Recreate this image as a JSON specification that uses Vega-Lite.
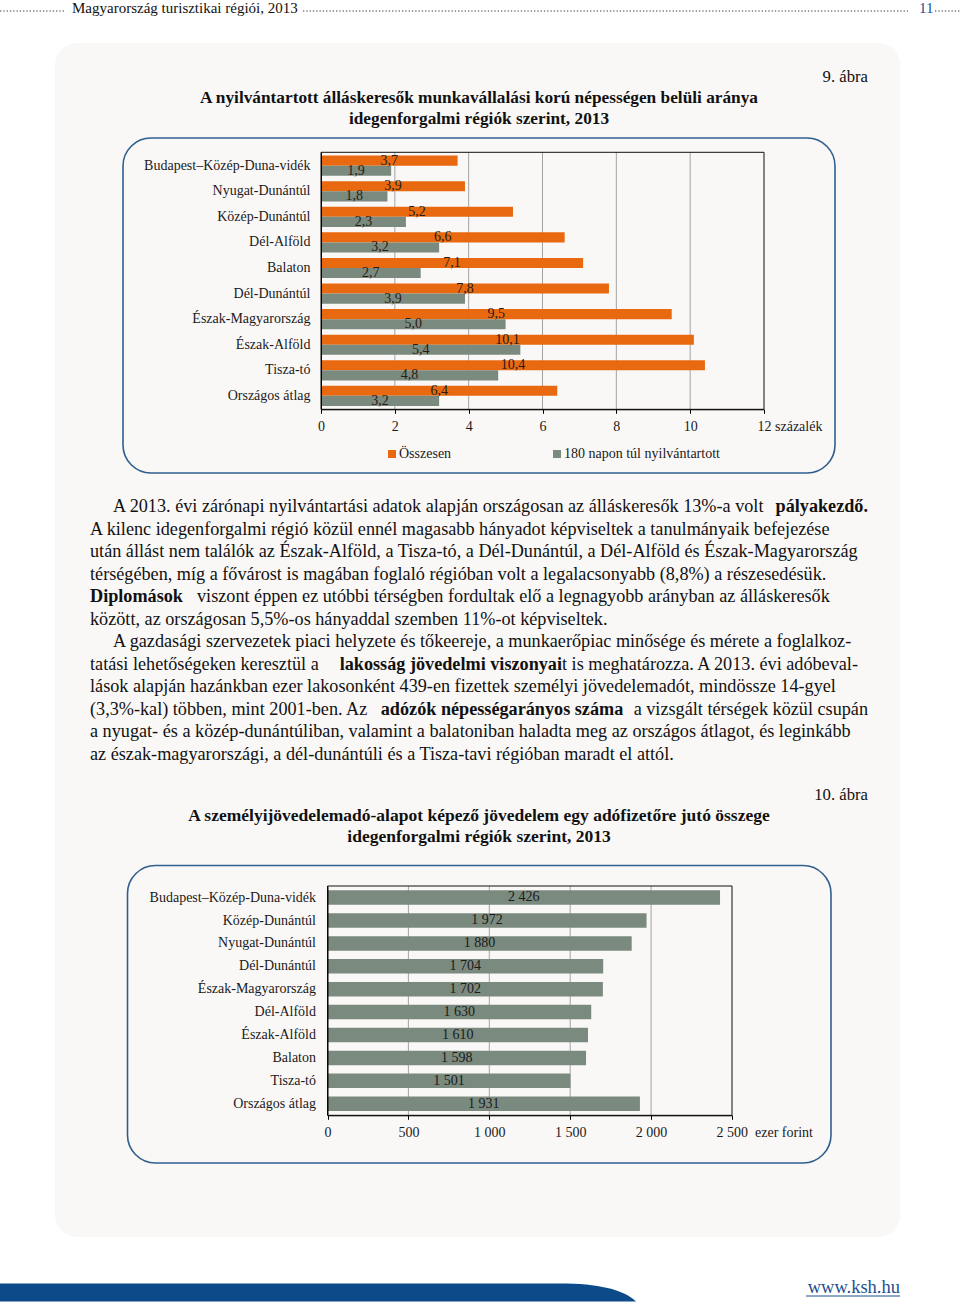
{
  "$schema": "https://vega.github.io/schema/vega-lite/v6.json",
  "width": 960,
  "height": 1308,
  "autosize": {"type": "none"},
  "padding": 0,
  "background": "#ffffff",
  "config": {
    "view": {"stroke": null},
    "font": "Liberation Serif",
    "locale": {"number": {"decimal": ",", "thousands": " ", "grouping": [3], "currency": ["", ""]}},
    "text": {"font": "Liberation Serif", "color": "#111111"},
    "axis": {"labelFont": "Liberation Serif", "labelFontSize": 14, "labelColor": "#1a1a1a", "domainColor": "#000000", "tickColor": "#000000", "grid": false, "zindex": 1}
  },
  "datasets": {
    "c1": [
      {"region": "Budapest–Közép-Duna-vidék", "series": "Összesen", "value": 3.7},
      {"region": "Budapest–Közép-Duna-vidék", "series": "180 napon túl nyilvántartott", "value": 1.9},
      {"region": "Nyugat-Dunántúl", "series": "Összesen", "value": 3.9},
      {"region": "Nyugat-Dunántúl", "series": "180 napon túl nyilvántartott", "value": 1.8},
      {"region": "Közép-Dunántúl", "series": "Összesen", "value": 5.2},
      {"region": "Közép-Dunántúl", "series": "180 napon túl nyilvántartott", "value": 2.3},
      {"region": "Dél-Alföld", "series": "Összesen", "value": 6.6},
      {"region": "Dél-Alföld", "series": "180 napon túl nyilvántartott", "value": 3.2},
      {"region": "Balaton", "series": "Összesen", "value": 7.1},
      {"region": "Balaton", "series": "180 napon túl nyilvántartott", "value": 2.7},
      {"region": "Dél-Dunántúl", "series": "Összesen", "value": 7.8},
      {"region": "Dél-Dunántúl", "series": "180 napon túl nyilvántartott", "value": 3.9},
      {"region": "Észak-Magyarország", "series": "Összesen", "value": 9.5},
      {"region": "Észak-Magyarország", "series": "180 napon túl nyilvántartott", "value": 5.0},
      {"region": "Észak-Alföld", "series": "Összesen", "value": 10.1},
      {"region": "Észak-Alföld", "series": "180 napon túl nyilvántartott", "value": 5.4},
      {"region": "Tisza-tó", "series": "Összesen", "value": 10.4},
      {"region": "Tisza-tó", "series": "180 napon túl nyilvántartott", "value": 4.8},
      {"region": "Országos átlag", "series": "Összesen", "value": 6.4},
      {"region": "Országos átlag", "series": "180 napon túl nyilvántartott", "value": 3.2}
    ],
    "c2": [
      {"region": "Budapest–Közép-Duna-vidék", "value": 2426},
      {"region": "Közép-Dunántúl", "value": 1972},
      {"region": "Nyugat-Dunántúl", "value": 1880},
      {"region": "Dél-Dunántúl", "value": 1704},
      {"region": "Észak-Magyarország", "value": 1702},
      {"region": "Dél-Alföld", "value": 1630},
      {"region": "Észak-Alföld", "value": 1610},
      {"region": "Balaton", "value": 1598},
      {"region": "Tisza-tó", "value": 1501},
      {"region": "Országos átlag", "value": 1931}
    ],
    "g1": [{"t": 2}, {"t": 4}, {"t": 6}, {"t": 8}, {"t": 10}],
    "g2": [{"t": 500}, {"t": 1000}, {"t": 1500}, {"t": 2000}],
    "pi": [
      {"line": 1, "text": "A 2013. évi zárónapi nyilvántartási adatok alapján országosan az álláskeresők 13%-a volt"},
      {"line": 7, "text": "A gazdasági szervezetek piaci helyzete és tőkeereje, a munkaerőpiac minősége és mérete a foglalkoz-"}
    ],
    "pbr": [{"line": 1, "text": "pályakezdő."}],
    "pl": [
      {"line": 2, "text": "A kilenc idegenforgalmi régió közül ennél magasabb hányadot képviseltek a tanulmányaik befejezése"},
      {"line": 3, "text": "után állást nem találók az Észak-Alföld, a Tisza-tó, a Dél-Dunántúl, a Dél-Alföld és Észak-Magyarország"},
      {"line": 4, "text": "térségében, míg a fővárost is magában foglaló régióban volt a legalacsonyabb (8,8%) a részesedésük."},
      {"line": 6, "text": "között, az országosan 5,5%-os hányaddal szemben 11%-ot képviseltek."},
      {"line": 8, "text": "tatási lehetőségeken keresztül a"},
      {"line": 9, "text": "lások alapján hazánkban ezer lakosonként 439-en fizettek személyi jövedelemadót, mindössze 14-gyel"},
      {"line": 10, "text": "(3,3%-kal) többen, mint 2001-ben. Az"},
      {"line": 11, "text": "a nyugat- és a közép-dunántúliban, valamint a balatoniban haladta meg az országos átlagot, és leginkább"},
      {"line": 12, "text": "az észak-magyarországi, a dél-dunántúli és a Tisza-tavi régióban maradt el attól."}
    ],
    "pbl": [{"line": 5, "text": "Diplomások"}],
    "p5": [{"line": 5, "text": "viszont éppen ez utóbbi térségben fordultak elő a legnagyobb arányban az álláskeresők"}],
    "pr": [{"line": 10, "text": "a vizsgált térségek közül csupán"}],
    "pb8": [{"line": 8, "text": "lakosság jövedelmi viszonyai"}],
    "p8": [{"line": 8, "text": "t is meghatározza. A 2013. évi adóbeval-"}],
    "pb10": [{"line": 10, "text": "adózók népességarányos száma"}]
  },
  "layer": [
    {
      "data": {"values": [{}]},
      "mark": {"type": "rect", "fill": "#faf8f7", "cornerRadius": 22},
      "encoding": {"x": {"value": 55}, "x2": {"value": 900}, "y": {"value": 43}, "y2": {"value": 1237}}
    },
    {
      "data": {"values": [{}]},
      "mark": {"type": "rule", "stroke": "#7a7a7a", "strokeWidth": 1.5, "strokeDash": [1.3, 2]},
      "encoding": {"x": {"value": 0}, "x2": {"value": 64}, "y": {"value": 11}}
    },
    {
      "data": {"values": [{}]},
      "mark": {"type": "rule", "stroke": "#7a7a7a", "strokeWidth": 1.5, "strokeDash": [1.3, 2]},
      "encoding": {"x": {"value": 303}, "x2": {"value": 908}, "y": {"value": 11}}
    },
    {
      "data": {"values": [{}]},
      "mark": {"type": "rule", "stroke": "#7a7a7a", "strokeWidth": 1.5, "strokeDash": [1.3, 2]},
      "encoding": {"x": {"value": 935}, "x2": {"value": 960}, "y": {"value": 11}}
    },
    {
      "data": {"values": [{}]},
      "mark": {"type": "text", "text": "Magyarország turisztikai régiói, 2013", "align": "left", "baseline": "middle", "fontSize": 15, "color": "#111111"},
      "encoding": {"x": {"value": 72}, "y": {"value": 8}}
    },
    {
      "data": {"values": [{}]},
      "mark": {"type": "text", "text": "11", "align": "left", "baseline": "middle", "fontSize": 15, "color": "#1f4f8f"},
      "encoding": {"x": {"value": 919}, "y": {"value": 8}}
    },
    {
      "data": {"values": [{}]},
      "mark": {"type": "text", "text": "9. ábra", "align": "right", "baseline": "middle", "fontSize": 16.7, "color": "#111111"},
      "encoding": {"x": {"value": 868}, "y": {"value": 77}}
    },
    {
      "data": {"values": [{}]},
      "mark": {"type": "text", "text": "A nyilvántartott álláskeresők munkavállalási korú népességen belüli aránya", "align": "center", "baseline": "middle", "fontSize": 17.3, "fontWeight": "bold", "color": "#111111"},
      "encoding": {"x": {"value": 479}, "y": {"value": 98}}
    },
    {
      "data": {"values": [{}]},
      "mark": {"type": "text", "text": "idegenforgalmi régiók szerint, 2013", "align": "center", "baseline": "middle", "fontSize": 17.3, "fontWeight": "bold", "color": "#111111"},
      "encoding": {"x": {"value": 479}, "y": {"value": 119}}
    },
    {
      "data": {"values": [{}]},
      "mark": {"type": "rect", "fillOpacity": 0, "stroke": "#2f5f8e", "strokeWidth": 1.6, "cornerRadius": 28},
      "encoding": {"x": {"value": 123}, "x2": {"value": 835}, "y": {"value": 138}, "y2": {"value": 473}}
    },
    {
      "data": {"name": "g1"},
      "mark": {"type": "rule", "stroke": "#a3a3a3", "strokeWidth": 1},
      "encoding": {
        "x": {"field": "t", "type": "quantitative", "scale": {"domain": [0, 12], "range": [321, 764], "nice": false, "zero": true}, "axis": null},
        "y": {"value": 152.3},
        "y2": {"value": 409.3}
      }
    },
    {
      "data": {"name": "c1"},
      "mark": {"type": "bar", "orient": "horizontal"},
      "encoding": {
        "y": {
          "field": "region", "type": "nominal", "sort": null,
          "scale": {"domain": ["Budapest–Közép-Duna-vidék", "Nyugat-Dunántúl", "Közép-Dunántúl", "Dél-Alföld", "Balaton", "Dél-Dunántúl", "Észak-Magyarország", "Észak-Alföld", "Tisza-tó", "Országos átlag"], "range": [152.3, 409.3], "paddingInner": 0.21, "paddingOuter": 0.13},
          "axis": {"orient": "left", "offset": -321, "ticks": false, "labelPadding": 11, "title": null, "domainColor": "#000000", "labelFontSize": 14, "zindex": 1}
        },
        "yOffset": {"field": "series", "type": "nominal", "scale": {"domain": ["Összesen", "180 napon túl nyilvántartott"]}},
        "x": {
          "field": "value", "type": "quantitative",
          "scale": {"domain": [0, 12], "range": [321, 764], "nice": false, "zero": true},
          "axis": {
            "orient": "bottom", "offset": -898.7, "values": [0, 2, 4, 6, 8, 10, 12], "tickSize": 4, "labelPadding": 6, "zindex": 1,
            "labelFlush": false, "labelOverlap": false, "title": null, "grid": false,
            "labelExpr": "datum.value == 12 ? '12 százalék' : datum.label",
            "labelAlign": {"condition": {"test": "datum.value == 12", "value": "left"}, "value": "center"},
            "labelOffset": {"condition": {"test": "datum.value == 12", "value": -7}, "value": 0}
          }
        },
        "color": {
          "field": "series", "type": "nominal",
          "scale": {"domain": ["Összesen", "180 napon túl nyilvántartott"], "range": ["#e8690f", "#7b8a7e"]},
          "legend": {"title": null, "orient": "none", "legendX": 385, "legendY": 447, "direction": "horizontal", "symbolType": "square", "symbolSize": 64, "symbolStrokeWidth": 0, "labelFont": "Liberation Serif", "labelFontSize": 14, "labelColor": "#1a1a1a", "labelOffset": 0, "columnPadding": 98}
        }
      }
    },
    {
      "data": {"values": [{}]},
      "mark": {"type": "rect", "fillOpacity": 0, "stroke": "#111111", "strokeWidth": 1},
      "encoding": {"x": {"value": 321}, "x2": {"value": 764}, "y": {"value": 152.3}, "y2": {"value": 409.3}}
    },
    {
      "data": {"name": "c1"},
      "mark": {"type": "text", "baseline": "middle", "align": "center", "fontSize": 14, "color": "#2a1c14"},
      "encoding": {
        "y": {
          "field": "region", "type": "nominal", "sort": null,
          "scale": {"domain": ["Budapest–Közép-Duna-vidék", "Nyugat-Dunántúl", "Közép-Dunántúl", "Dél-Alföld", "Balaton", "Dél-Dunántúl", "Észak-Magyarország", "Észak-Alföld", "Tisza-tó", "Országos átlag"], "range": [152.3, 409.3], "paddingInner": 0.21, "paddingOuter": 0.13},
          "axis": null
        },
        "yOffset": {"field": "series", "type": "nominal", "scale": {"domain": ["Összesen", "180 napon túl nyilvántartott"]}},
        "x": {"field": "value", "type": "quantitative", "scale": {"domain": [0, 24], "range": [321, 764], "nice": false, "zero": true}, "axis": null},
        "text": {"field": "value", "type": "quantitative", "format": ".1f"}
      }
    },
    {
      "data": {"name": "pi"},
      "mark": {"type": "text", "align": "left", "baseline": "middle", "fontSize": 18.2},
      "encoding": {"x": {"value": 113}, "y": {"field": "line", "type": "quantitative", "scale": {"domain": [1, 12], "range": [507, 755], "zero": false, "nice": false}, "axis": null}, "text": {"field": "text"}}
    },
    {
      "data": {"name": "pl"},
      "mark": {"type": "text", "align": "left", "baseline": "middle", "fontSize": 18.2},
      "encoding": {"x": {"value": 90}, "y": {"field": "line", "type": "quantitative", "scale": {"domain": [1, 12], "range": [507, 755], "zero": false, "nice": false}, "axis": null}, "text": {"field": "text"}}
    },
    {
      "data": {"name": "pr"},
      "mark": {"type": "text", "align": "right", "baseline": "middle", "fontSize": 18.2},
      "encoding": {"x": {"value": 868}, "y": {"field": "line", "type": "quantitative", "scale": {"domain": [1, 12], "range": [507, 755], "zero": false, "nice": false}, "axis": null}, "text": {"field": "text"}}
    },
    {
      "data": {"name": "p5"},
      "mark": {"type": "text", "align": "left", "baseline": "middle", "fontSize": 18.2},
      "encoding": {"x": {"value": 197}, "y": {"field": "line", "type": "quantitative", "scale": {"domain": [1, 12], "range": [507, 755], "zero": false, "nice": false}, "axis": null}, "text": {"field": "text"}}
    },
    {
      "data": {"name": "pbr"},
      "mark": {"type": "text", "align": "right", "baseline": "middle", "fontSize": 18.2, "fontWeight": "bold"},
      "encoding": {"x": {"value": 868}, "y": {"field": "line", "type": "quantitative", "scale": {"domain": [1, 12], "range": [507, 755], "zero": false, "nice": false}, "axis": null}, "text": {"field": "text"}}
    },
    {
      "data": {"name": "pbl"},
      "mark": {"type": "text", "align": "left", "baseline": "middle", "fontSize": 18.2, "fontWeight": "bold"},
      "encoding": {"x": {"value": 90}, "y": {"field": "line", "type": "quantitative", "scale": {"domain": [1, 12], "range": [507, 755], "zero": false, "nice": false}, "axis": null}, "text": {"field": "text"}}
    },
    {
      "data": {"name": "pb8"},
      "mark": {"type": "text", "align": "right", "baseline": "middle", "fontSize": 18.2, "fontWeight": "bold"},
      "encoding": {"x": {"value": 562}, "y": {"field": "line", "type": "quantitative", "scale": {"domain": [1, 12], "range": [507, 755], "zero": false, "nice": false}, "axis": null}, "text": {"field": "text"}}
    },
    {
      "data": {"name": "p8"},
      "mark": {"type": "text", "align": "left", "baseline": "middle", "fontSize": 18.2},
      "encoding": {"x": {"value": 562}, "y": {"field": "line", "type": "quantitative", "scale": {"domain": [1, 12], "range": [507, 755], "zero": false, "nice": false}, "axis": null}, "text": {"field": "text"}}
    },
    {
      "data": {"name": "pb10"},
      "mark": {"type": "text", "align": "center", "baseline": "middle", "fontSize": 18.2, "fontWeight": "bold"},
      "encoding": {"x": {"value": 502}, "y": {"field": "line", "type": "quantitative", "scale": {"domain": [1, 12], "range": [507, 755], "zero": false, "nice": false}, "axis": null}, "text": {"field": "text"}}
    },
    {
      "data": {"values": [{}]},
      "mark": {"type": "text", "text": "10. ábra", "align": "right", "baseline": "middle", "fontSize": 16.7, "color": "#111111"},
      "encoding": {"x": {"value": 868}, "y": {"value": 795}}
    },
    {
      "data": {"values": [{}]},
      "mark": {"type": "text", "text": "A személyijövedelemadó-alapot képező jövedelem egy adófizetőre jutó összege", "align": "center", "baseline": "middle", "fontSize": 17.5, "fontWeight": "bold", "color": "#111111"},
      "encoding": {"x": {"value": 479}, "y": {"value": 816}}
    },
    {
      "data": {"values": [{}]},
      "mark": {"type": "text", "text": "idegenforgalmi régiók szerint, 2013", "align": "center", "baseline": "middle", "fontSize": 17.5, "fontWeight": "bold", "color": "#111111"},
      "encoding": {"x": {"value": 479}, "y": {"value": 837}}
    },
    {
      "data": {"values": [{}]},
      "mark": {"type": "rect", "fillOpacity": 0, "stroke": "#2f5f8e", "strokeWidth": 1.6, "cornerRadius": 28},
      "encoding": {"x": {"value": 127.5}, "x2": {"value": 831}, "y": {"value": 865.5}, "y2": {"value": 1163}}
    },
    {
      "data": {"name": "g2"},
      "mark": {"type": "rule", "stroke": "#a3a3a3", "strokeWidth": 1},
      "encoding": {
        "x": {"field": "t", "type": "quantitative", "scale": {"domain": [0, 2500], "range": [327.5, 732], "nice": false, "zero": true}, "axis": null},
        "y": {"value": 886},
        "y2": {"value": 1115.3}
      }
    },
    {
      "data": {"name": "c2"},
      "mark": {"type": "bar", "orient": "horizontal", "color": "#7b8a7e"},
      "encoding": {
        "y": {
          "field": "region", "type": "nominal", "sort": null,
          "scale": {"domain": ["Budapest–Közép-Duna-vidék", "Közép-Dunántúl", "Nyugat-Dunántúl", "Dél-Dunántúl", "Észak-Magyarország", "Dél-Alföld", "Észak-Alföld", "Balaton", "Tisza-tó", "Országos átlag"], "range": [886, 1115.3], "paddingInner": 0.366, "paddingOuter": 0.19},
          "axis": {"orient": "left", "offset": -327.5, "ticks": false, "labelPadding": 12, "title": null, "domainColor": "#000000", "labelFontSize": 14, "zindex": 1}
        },
        "x": {
          "field": "value", "type": "quantitative",
          "scale": {"domain": [0, 2500], "range": [327.5, 732], "nice": false, "zero": true},
          "axis": {
            "orient": "bottom", "offset": -192.7, "values": [0, 500, 1000, 1500, 2000, 2500], "format": ",d", "tickSize": 4, "labelPadding": 6, "zindex": 1,
            "labelFlush": false, "labelOverlap": false, "title": null, "grid": false,
            "labelExpr": "datum.value == 2500 ? '2 500\u00a0\u00a0ezer forint' : datum.label",
            "labelAlign": {"condition": {"test": "datum.value == 2500", "value": "left"}, "value": "center"},
            "labelOffset": {"condition": {"test": "datum.value == 2500", "value": -16}, "value": 0}
          }
        }
      }
    },
    {
      "data": {"values": [{}]},
      "mark": {"type": "rect", "fillOpacity": 0, "stroke": "#111111", "strokeWidth": 1},
      "encoding": {"x": {"value": 327.5}, "x2": {"value": 732}, "y": {"value": 886}, "y2": {"value": 1115.3}}
    },
    {
      "data": {"name": "c2"},
      "mark": {"type": "text", "baseline": "middle", "align": "center", "fontSize": 14, "color": "#1a1a1a"},
      "encoding": {
        "y": {
          "field": "region", "type": "nominal", "sort": null,
          "scale": {"domain": ["Budapest–Közép-Duna-vidék", "Közép-Dunántúl", "Nyugat-Dunántúl", "Dél-Dunántúl", "Észak-Magyarország", "Dél-Alföld", "Észak-Alföld", "Balaton", "Tisza-tó", "Országos átlag"], "range": [886, 1115.3], "paddingInner": 0.366, "paddingOuter": 0.19},
          "axis": null
        },
        "x": {"field": "value", "type": "quantitative", "scale": {"domain": [0, 5000], "range": [327.5, 732], "nice": false, "zero": true}, "axis": null},
        "text": {"field": "value", "type": "quantitative", "format": ",d"}
      }
    },
    {
      "data": {"values": [{}]},
      "mark": {"type": "point", "shape": "M-1,-0.0283L0.761,-0.0283C0.88,-0.0283 0.96,-0.01 1,0.0283L-1,0.0283Z", "filled": true, "fill": "#0c4a89", "size": 404496, "opacity": 1, "strokeWidth": 0},
      "encoding": {"x": {"value": 318}, "y": {"value": 1292.5}}
    },
    {
      "data": {"values": [{}]},
      "mark": {"type": "text", "text": "www.ksh.hu", "align": "right", "baseline": "middle", "fontSize": 18.5, "color": "#1f4f8f"},
      "encoding": {"x": {"value": 900}, "y": {"value": 1287}}
    },
    {
      "data": {"values": [{}]},
      "mark": {"type": "rule", "stroke": "#1f4f8f", "strokeWidth": 1},
      "encoding": {"x": {"value": 806}, "x2": {"value": 900}, "y": {"value": 1296}}
    }
  ],
  "resolve": {
    "scale": {"x": "independent", "y": "independent", "yOffset": "independent", "color": "independent"},
    "axis": {"x": "independent", "y": "independent"}
  }
}
